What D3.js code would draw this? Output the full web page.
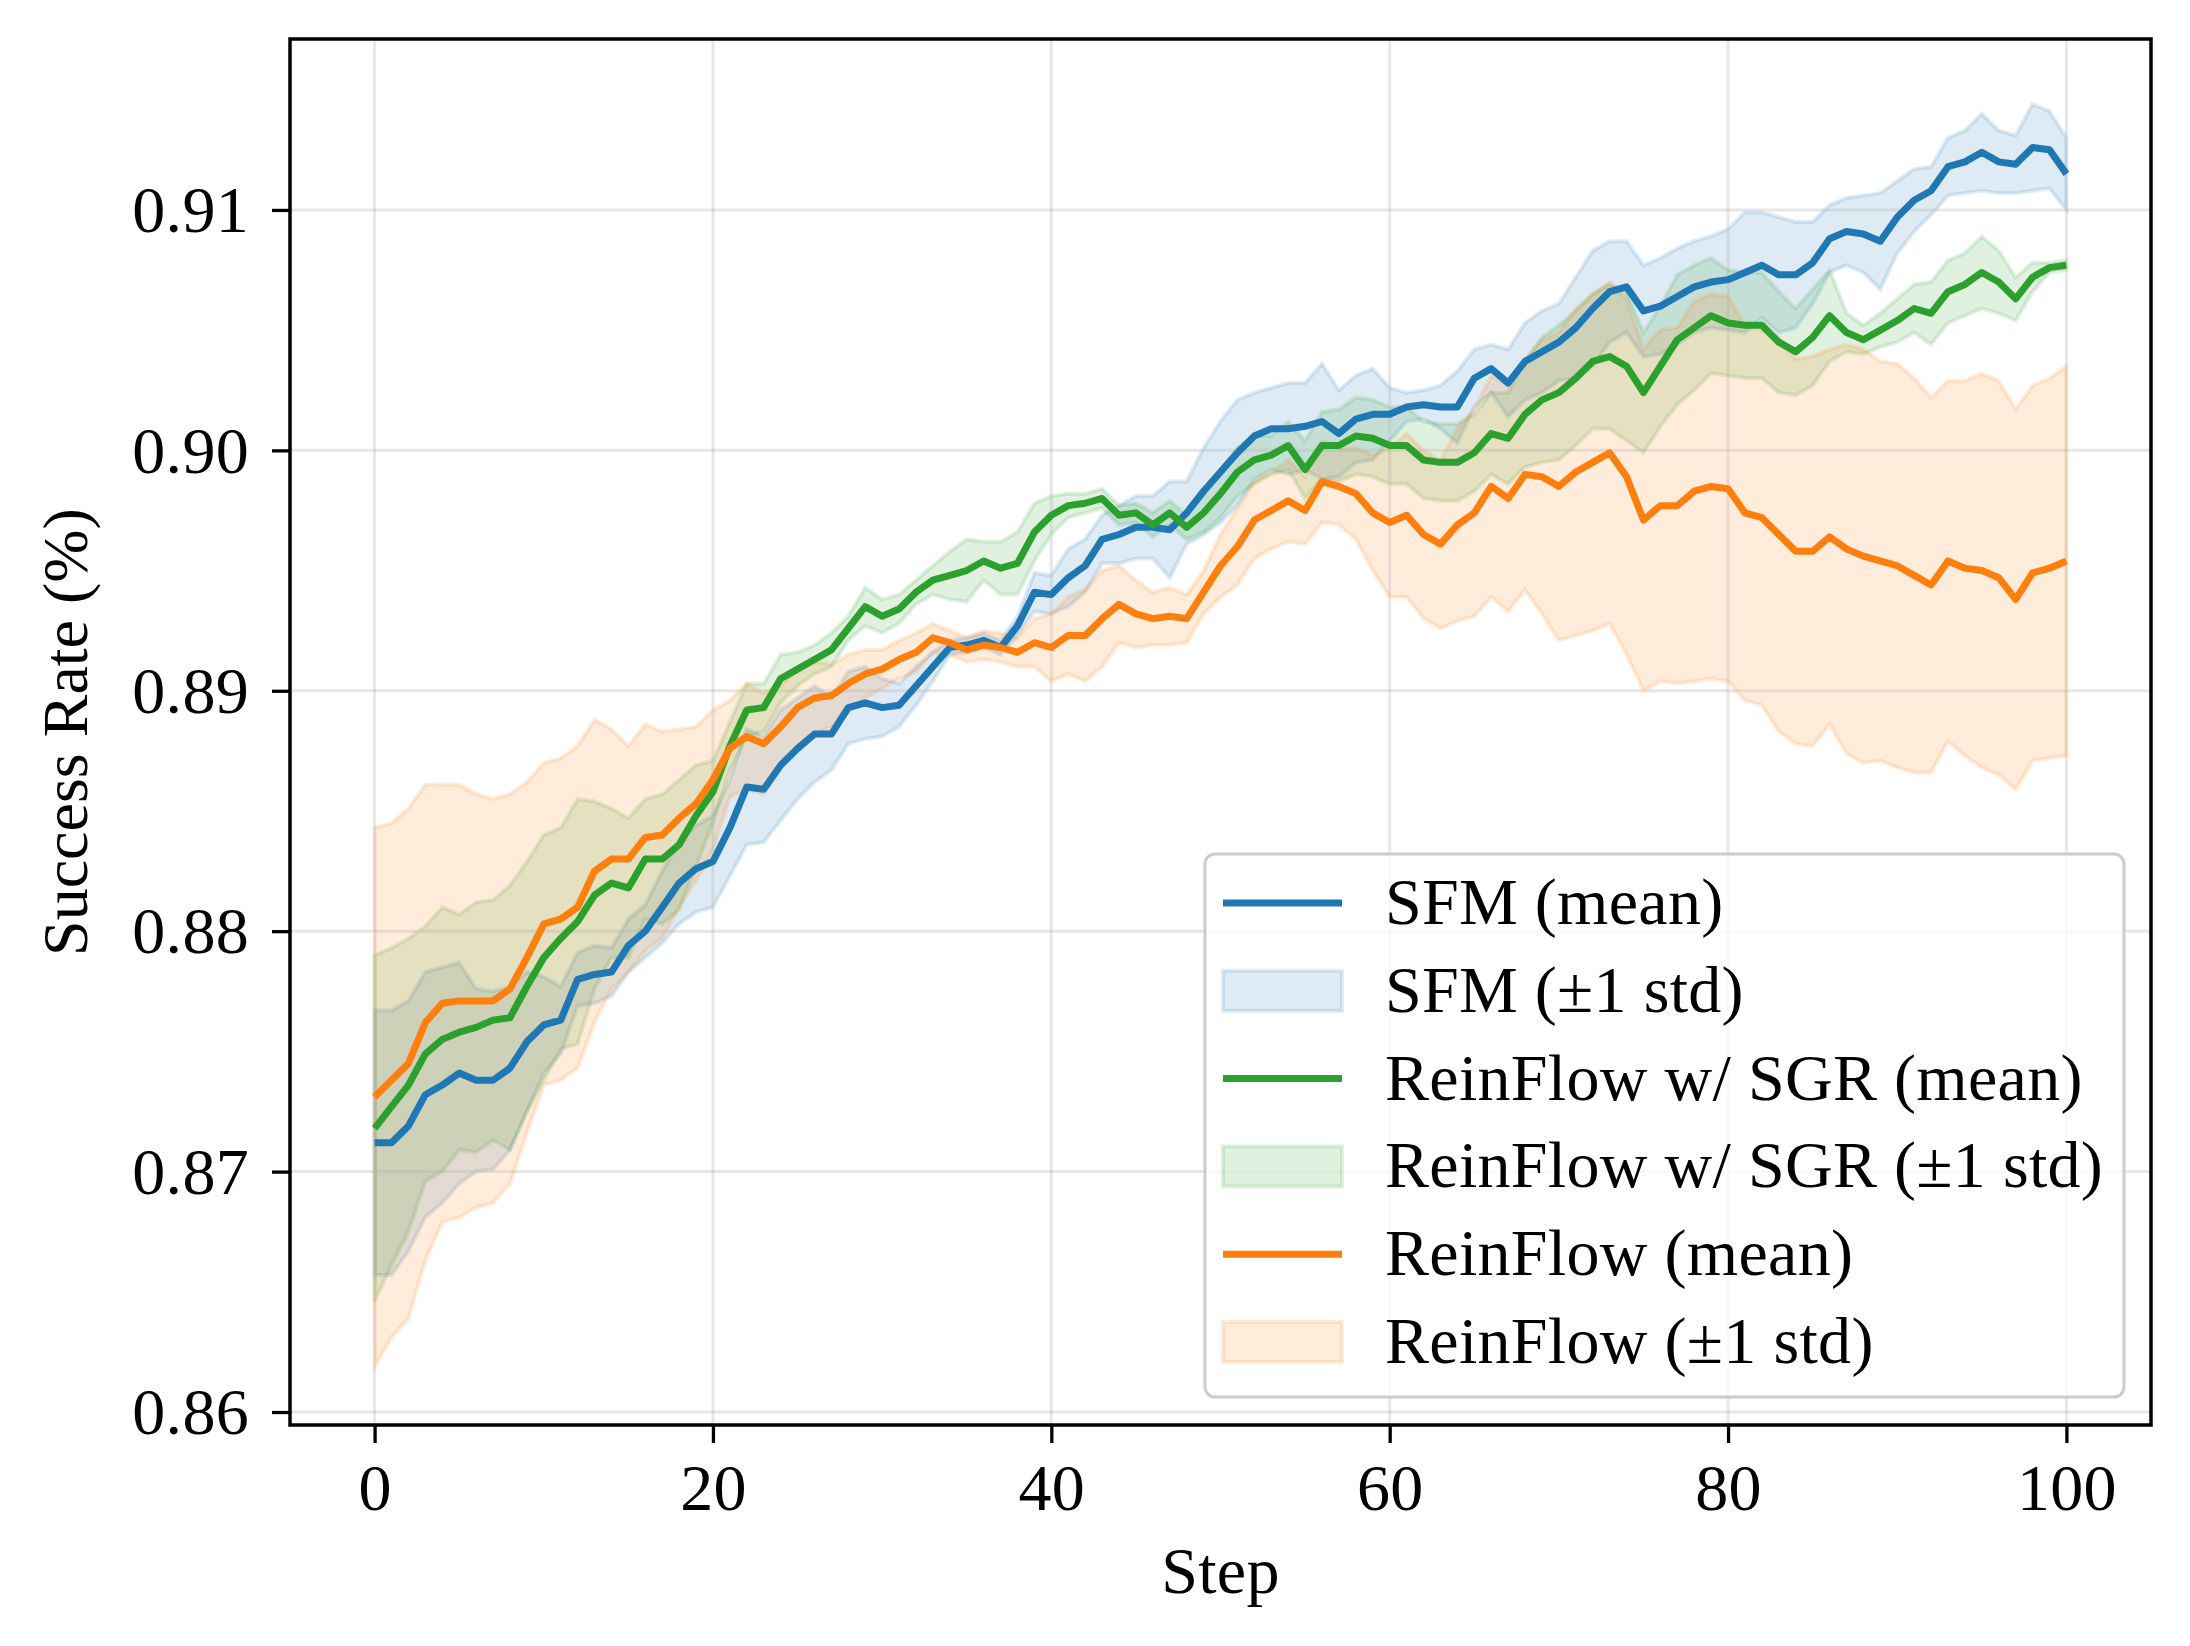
<!DOCTYPE html>
<html>
<head>
<meta charset="utf-8">
<script src="https://cdn.jsdelivr.net/npm/d3@7"></script>
<style>
  body { margin: 0; background: #fff; }
  text { font-family: "Liberation Serif", "DejaVu Serif", serif; fill: #000; }
</style>
</head>
<body>
<svg id="chart"></svg>
<script>
// steps 0..100
const steps = d3.range(0, 101)

const sfmMean = [0.8712,0.8712,0.8719,0.8732,0.8736,0.8741,0.8738,0.8738,0.8743,0.8754,
  0.8761,0.8763,0.8780,0.8782,0.8783,0.8794,0.8800,0.8810,0.8820,0.8826,
  0.8829,0.8843,0.8860,0.8859,0.8869,0.8876,0.8882,0.8882,0.8893,0.8895,
  0.8893,0.8894,0.8902,0.8910,0.8918,0.8919,0.8921,0.8918,0.8927,0.8941,
  0.8940,0.8947,0.8952,0.8963,0.8965,0.8968,0.8968,0.8967,0.8974,0.8983,
  0.8991,0.8999,0.9006,0.9009,0.9009,0.9010,0.9012,0.9007,0.9013,0.9015,
  0.9015,0.9018,0.9019,0.9018,0.9018,0.9030,0.9034,0.9028,0.9037,0.9041,
  0.9045,0.9051,0.9059,0.9066,0.9068,0.9058,0.9060,0.9064,0.9068,0.9070,
  0.9071,0.9074,0.9077,0.9073,0.9073,0.9078,0.9088,0.9091,0.9090,0.9087,
  0.9097,0.9104,0.9108,0.9118,0.9120,0.9124,0.9120,0.9119,0.9126,0.9125,
  0.9115]
const sfmStd = [0.0055,0.0055,0.0052,0.0051,0.0049,0.0046,0.0038,0.0037,0.0034,0.0029,
  0.0020,0.0014,0.0011,0.0012,0.0010,0.0011,0.0011,0.0015,0.0017,0.0018,
  0.0019,0.0020,0.0024,0.0022,0.0023,0.0021,0.0020,0.0015,0.0015,0.0015,
  0.0012,0.0009,0.0008,0.0006,0.0003,0.0003,0.0003,0.0003,0.0004,0.0008,
  0.0008,0.0012,0.0011,0.0010,0.0012,0.0013,0.0013,0.0020,0.0013,0.0018,
  0.0021,0.0022,0.0018,0.0017,0.0019,0.0018,0.0024,0.0018,0.0018,0.0019,
  0.0011,0.0006,0.0006,0.0009,0.0015,0.0012,0.0010,0.0014,0.0016,0.0017,
  0.0016,0.0021,0.0024,0.0021,0.0019,0.0019,0.0020,0.0020,0.0019,0.0019,
  0.0021,0.0025,0.0022,0.0024,0.0022,0.0017,0.0014,0.0014,0.0016,0.0020,
  0.0015,0.0013,0.0010,0.0012,0.0013,0.0016,0.0013,0.0012,0.0018,0.0016,
  0.0015]

const sgrMean = [0.8718,0.8727,0.8736,0.8749,0.8755,0.8758,0.8760,0.8763,0.8764,0.8777,
  0.8789,0.8797,0.8804,0.8815,0.8820,0.8818,0.8830,0.8830,0.8836,0.8848,
  0.8858,0.8877,0.8892,0.8893,0.8905,0.8909,0.8913,0.8917,0.8926,0.8935,
  0.8931,0.8934,0.8941,0.8946,0.8948,0.8950,0.8954,0.8951,0.8953,0.8966,
  0.8973,0.8977,0.8978,0.8980,0.8973,0.8974,0.8969,0.8974,0.8968,0.8974,
  0.8982,0.8991,0.8996,0.8998,0.9002,0.8992,0.9002,0.9002,0.9006,0.9005,
  0.9002,0.9002,0.8996,0.8995,0.8995,0.8999,0.9007,0.9005,0.9015,0.9021,
  0.9024,0.9030,0.9037,0.9039,0.9035,0.9024,0.9035,0.9046,0.9051,0.9056,
  0.9053,0.9052,0.9052,0.9045,0.9041,0.9047,0.9056,0.9049,0.9046,0.9050,
  0.9054,0.9059,0.9057,0.9066,0.9069,0.9074,0.9070,0.9063,0.9072,0.9076,
  0.9077]
const sgrStd = [0.0072,0.0066,0.0061,0.0053,0.0055,0.0049,0.0052,0.0050,0.0055,0.0052,
  0.0051,0.0046,0.0051,0.0039,0.0031,0.0029,0.0025,0.0027,0.0027,0.0021,
  0.0013,0.0010,0.0011,0.0010,0.0010,0.0007,0.0006,0.0007,0.0005,0.0008,
  0.0007,0.0006,0.0005,0.0006,0.0010,0.0013,0.0008,0.0011,0.0013,0.0012,
  0.0008,0.0005,0.0004,0.0004,0.0004,0.0004,0.0005,0.0005,0.0005,0.0008,
  0.0010,0.0010,0.0010,0.0008,0.0010,0.0012,0.0014,0.0015,0.0016,0.0016,
  0.0016,0.0016,0.0016,0.0016,0.0016,0.0016,0.0017,0.0019,0.0022,0.0026,
  0.0028,0.0028,0.0028,0.0030,0.0031,0.0025,0.0025,0.0027,0.0026,0.0024,
  0.0022,0.0022,0.0022,0.0021,0.0018,0.0020,0.0019,0.0008,0.0006,0.0007,
  0.0009,0.0010,0.0013,0.0013,0.0013,0.0015,0.0013,0.0009,0.0006,0.0002,
  0.0002]

const rfMean = [0.8731,0.8738,0.8745,0.8762,0.8770,0.8771,0.8771,0.8771,0.8776,0.8789,
  0.8803,0.8805,0.8810,0.8825,0.8830,0.8830,0.8839,0.8840,0.8847,0.8853,
  0.8863,0.8876,0.8881,0.8878,0.8885,0.8893,0.8897,0.8898,0.8903,0.8907,
  0.8909,0.8913,0.8916,0.8922,0.8920,0.8917,0.8919,0.8918,0.8916,0.8920,
  0.8918,0.8923,0.8923,0.8930,0.8936,0.8932,0.8930,0.8931,0.8930,0.8941,
  0.8952,0.8960,0.8971,0.8975,0.8979,0.8975,0.8987,0.8985,0.8982,0.8974,
  0.8970,0.8973,0.8965,0.8961,0.8969,0.8974,0.8985,0.8980,0.8990,0.8989,
  0.8985,0.8991,0.8995,0.8999,0.8989,0.8971,0.8977,0.8977,0.8983,0.8985,
  0.8984,0.8974,0.8972,0.8965,0.8958,0.8958,0.8964,0.8959,0.8956,0.8954,
  0.8952,0.8948,0.8944,0.8954,0.8951,0.8950,0.8947,0.8938,0.8949,0.8951,
  0.8954]
const rfStd = [0.0112,0.0107,0.0106,0.0099,0.0091,0.0090,0.0086,0.0084,0.0081,0.0073,
  0.0067,0.0067,0.0067,0.0063,0.0054,0.0047,0.0047,0.0043,0.0037,0.0032,
  0.0029,0.0020,0.0022,0.0021,0.0017,0.0016,0.0015,0.0013,0.0012,0.0010,
  0.0008,0.0008,0.0008,0.0006,0.0005,0.0005,0.0006,0.0006,0.0006,0.0010,
  0.0014,0.0016,0.0019,0.0020,0.0016,0.0014,0.0011,0.0012,0.0010,0.0009,
  0.0013,0.0016,0.0016,0.0016,0.0017,0.0014,0.0017,0.0016,0.0019,0.0024,
  0.0031,0.0034,0.0035,0.0035,0.0040,0.0043,0.0046,0.0047,0.0048,0.0057,
  0.0064,0.0068,0.0070,0.0071,0.0074,0.0071,0.0073,0.0074,0.0079,0.0080,
  0.0080,0.0078,0.0078,0.0082,0.0080,0.0081,0.0078,0.0085,0.0086,0.0083,
  0.0084,0.0082,0.0078,0.0075,0.0078,0.0082,0.0082,0.0079,0.0078,0.0079,
  0.0081]

const xTicks = [0, 20, 40, 60, 80, 100]
const yTicks = [0.86, 0.87, 0.88, 0.89, 0.90, 0.91]
const legendLabels = ["SFM (mean)", "SFM (\u00b11 std)", "ReinFlow w/ SGR (mean)",
  "ReinFlow w/ SGR (\u00b11 std)", "ReinFlow (mean)", "ReinFlow (\u00b11 std)"]

const series = [
  {mean: sfmMean, std: sfmStd, color: "#1f77b4"},
  {mean: sgrMean, std: sgrStd, color: "#2ca02c"},
  {mean: rfMean, std: rfStd, color: "#ff7f0e"}
]

const width = 2190
const height = 1646
const plot = {left: 290, right: 2151, top: 39, bottom: 1425}
const fontSize = 66
const spacing = "0.3px"

const svg = d3.select("#chart")
  .attr("width", width)
  .attr("height", height)

svg.append("rect").attr("width", width).attr("height", height).attr("fill", "#fff")

var x = d3.scaleLinear().domain([-5, 105]).range([plot.left, plot.right])
var y = d3.scaleLinear().domain([0.85946, 0.91711]).range([plot.bottom, plot.top])

svg.append("clipPath").attr("id", "clip")
  .append("rect")
  .attr("x", plot.left).attr("y", plot.top)
  .attr("width", plot.right - plot.left).attr("height", plot.bottom - plot.top)

const inner = svg.append("g").attr("clip-path", "url(#clip)")

// bands first
series.forEach(function(s) {
  var area = d3.area()
    .x(function(d, i) { return x(steps[i]) })
    .y0(function(d, i) { return y(s.mean[i] - s.std[i]) })
    .y1(function(d, i) { return y(s.mean[i] + s.std[i]) })
  inner.append("path")
    .datum(steps)
    .attr("d", area)
    .attr("fill", s.color)
    .attr("fill-opacity", 0.15)
    .attr("stroke", s.color)
    .attr("stroke-opacity", 0.15)
    .attr("stroke-width", 4)
})

// grid
inner.selectAll(".gx").data(xTicks).enter().append("line")
  .attr("x1", function(d) { return x(d) }).attr("x2", function(d) { return x(d) })
  .attr("y1", plot.top).attr("y2", plot.bottom)
  .attr("stroke", "#b0b0b0").attr("stroke-opacity", 0.3).attr("stroke-width", 3)
inner.selectAll(".gy").data(yTicks).enter().append("line")
  .attr("x1", plot.left).attr("x2", plot.right)
  .attr("y1", function(d) { return y(d) }).attr("y2", function(d) { return y(d) })
  .attr("stroke", "#b0b0b0").attr("stroke-opacity", 0.3).attr("stroke-width", 3)

// mean lines
series.forEach(function(s) {
  var line = d3.line()
    .x(function(d, i) { return x(steps[i]) })
    .y(function(d, i) { return y(s.mean[i]) })
  inner.append("path")
    .datum(steps)
    .attr("d", line)
    .attr("fill", "none")
    .attr("stroke", s.color)
    .attr("stroke-width", 7)
    .attr("stroke-linejoin", "round")
})

// axes
var gx = svg.append("g")
  .attr("transform", "translate(0," + plot.bottom + ")")
  .call(d3.axisBottom(x).tickValues(xTicks).tickSize(18).tickFormat(d3.format("d")))
gx.select(".domain").remove()
gx.selectAll(".tick line").attr("stroke", "#000").attr("stroke-width", 3.3)
gx.selectAll(".tick text").attr("y", 85).attr("dy", 0)
  .style("font-size", fontSize + "px").style("font-family", "Liberation Serif")
  .style("letter-spacing", spacing)

var gy = svg.append("g")
  .attr("transform", "translate(" + plot.left + ",0)")
  .call(d3.axisLeft(y).tickValues(yTicks).tickSize(18).tickPadding(23).tickFormat(d3.format(".2f")))
gy.select(".domain").remove()
gy.selectAll(".tick line").attr("stroke", "#000").attr("stroke-width", 3.3)
gy.selectAll(".tick text").attr("dy", "0.33em")
  .style("font-size", fontSize + "px").style("font-family", "Liberation Serif")
  .style("letter-spacing", spacing)

svg.append("rect")
  .attr("x", plot.left).attr("y", plot.top)
  .attr("width", plot.right - plot.left).attr("height", plot.bottom - plot.top)
  .attr("fill", "none").attr("stroke", "#000").attr("stroke-width", 3.5)

svg.append("text")
  .attr("x", (plot.left + plot.right) / 2).attr("y", 1593)
  .attr("text-anchor", "middle")
  .style("font-size", fontSize + "px")
  .style("letter-spacing", spacing)
  .text("Step")

svg.append("text")
  .attr("transform", "translate(87," + (plot.top + plot.bottom) / 2 + ") rotate(-90)")
  .attr("text-anchor", "middle")
  .style("font-size", "64px")
  .text("Success Rate (%)")

// legend
const legend = svg.append("g")
legend.append("rect")
  .attr("x", 1205).attr("y", 854).attr("width", 919).attr("height", 543)
  .attr("rx", 10).attr("ry", 10)
  .attr("fill", "#fff").attr("fill-opacity", 0.8)
  .attr("stroke", "#cccccc").attr("stroke-width", 3)

legendLabels.forEach(function(label, i) {
  var s = series[Math.floor(i / 2)]
  var cy = 903 + i * 87.8
  if (i % 2 === 0) {
    legend.append("line")
      .attr("x1", 1223).attr("x2", 1342).attr("y1", cy).attr("y2", cy)
      .attr("stroke", s.color).attr("stroke-width", 7)
  } else {
    legend.append("rect")
      .attr("x", 1223).attr("y", cy - 20).attr("width", 119).attr("height", 40)
      .attr("fill", s.color).attr("fill-opacity", 0.15)
      .attr("stroke", s.color).attr("stroke-opacity", 0.15).attr("stroke-width", 4)
  }
  legend.append("text")
    .attr("x", 1385).attr("y", cy + 21)
    .style("font-size", fontSize + "px")
    .style("letter-spacing", spacing)
    .text(label)
})
</script>
</body>
</html>
